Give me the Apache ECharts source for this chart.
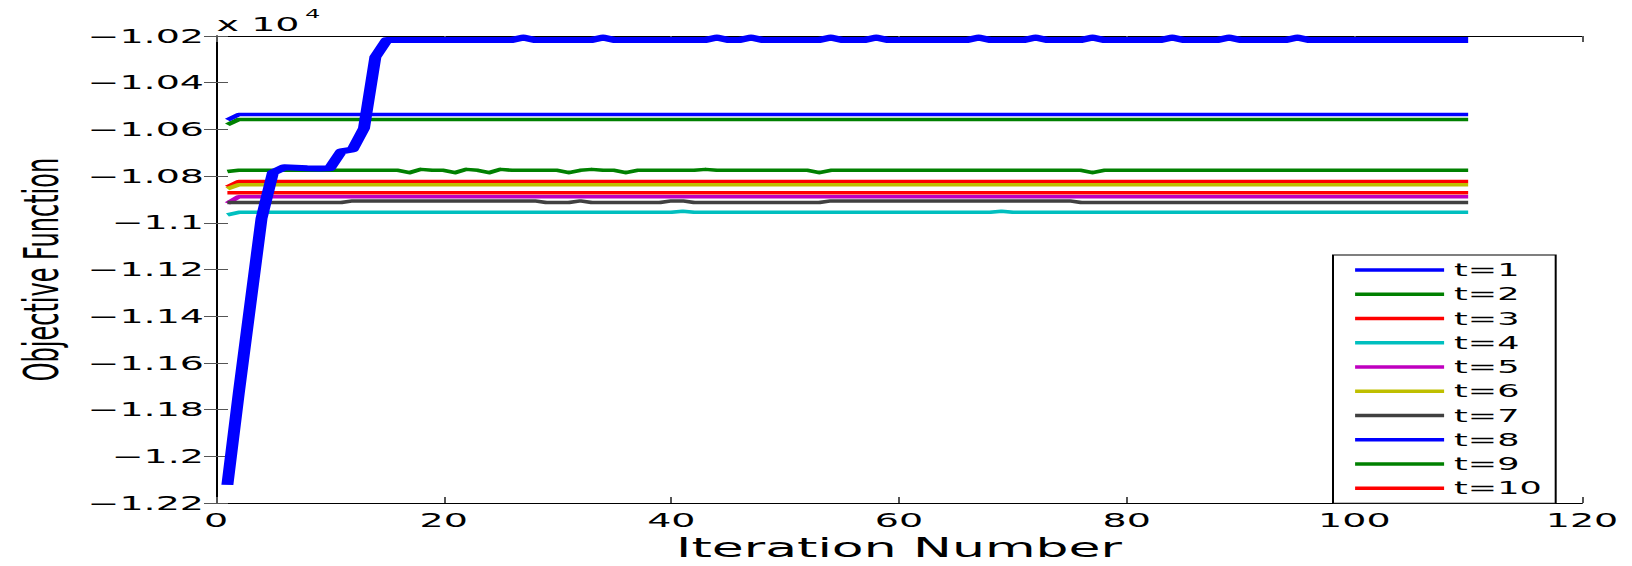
<!DOCTYPE html>
<html>
<head>
<meta charset="utf-8">
<script src="https://cdn.jsdelivr.net/npm/echarts@6/dist/echarts.min.js"></script>
<style>
html,body{margin:0;padding:0;background:#fff;overflow:hidden;width:1632px;height:566px}
#chart{width:816px;height:566px;transform:scaleX(2);transform-origin:0 0;}
</style>
</head>
<body>
<div id="chart"></div>
<script>
// ---- data (objective values) ----
const iterations = [
  1,2,3,4,5,6,7,8,9,10, 11,12,13,14,15,16,17,18,19,20,
  21,22,23,24,25,26,27,28,29,30, 31,32,33,34,35,36,37,38,39,40,
  41,42,43,44,45,46,47,48,49,50, 51,52,53,54,55,56,57,58,59,60,
  61,62,63,64,65,66,67,68,69,70, 71,72,73,74,75,76,77,78,79,80,
  81,82,83,84,85,86,87,88,89,90, 91,92,93,94,95,96,97,98,99,100,
  101,102,103,104,105,106,107,108,109,110
];
const seriesNames = ['t=1','t=2','t=3','t=4','t=5','t=6','t=7','t=8','t=9','t=10'];
const xTicks = [0,20,40,60,80,100,120];
const yTicks = [-12200,-12000,-11800,-11600,-11400,-11200,-11000,-10800,-10600,-10400,-10200];

const t1 = [
  -12122,-11729,-11355,-10981,-10785,-10762,-10764,-10766,-10767,-10766,
  -10694,-10686,-10595,-10290,-10217,-10217,-10217,-10217,-10217,-10217,
  -10217,-10217,-10217,-10217,-10217,-10217,-10206,-10217,-10217,-10217,
  -10217,-10217,-10217,-10206,-10217,-10217,-10217,-10217,-10217,-10217,
  -10217,-10217,-10217,-10206,-10217,-10217,-10206,-10217,-10217,-10217,
  -10217,-10217,-10217,-10206,-10217,-10217,-10217,-10206,-10217,-10217,
  -10217,-10217,-10217,-10217,-10217,-10217,-10206,-10217,-10217,-10217,
  -10217,-10206,-10217,-10217,-10217,-10217,-10206,-10217,-10217,-10217,
  -10217,-10217,-10217,-10206,-10217,-10217,-10217,-10217,-10206,-10217,
  -10217,-10217,-10217,-10217,-10206,-10217,-10217,-10217,-10217,-10217,
  -10217,-10217,-10217,-10217,-10217,-10217,-10217,-10217,-10217,-10217
];
const t2 = [
  -10580,-10557,-10557,-10557,-10557,-10557,-10557,-10557,-10557,-10557,
  -10557,-10557,-10557,-10557,-10557,-10557,-10557,-10557,-10557,-10557,
  -10557,-10557,-10557,-10557,-10557,-10557,-10557,-10557,-10557,-10557,
  -10557,-10557,-10557,-10557,-10557,-10557,-10557,-10557,-10557,-10557,
  -10557,-10557,-10557,-10557,-10557,-10557,-10557,-10557,-10557,-10557,
  -10557,-10557,-10557,-10557,-10557,-10557,-10557,-10557,-10557,-10557,
  -10557,-10557,-10557,-10557,-10557,-10557,-10557,-10557,-10557,-10557,
  -10557,-10557,-10557,-10557,-10557,-10557,-10557,-10557,-10557,-10557,
  -10557,-10557,-10557,-10557,-10557,-10557,-10557,-10557,-10557,-10557,
  -10557,-10557,-10557,-10557,-10557,-10557,-10557,-10557,-10557,-10557,
  -10557,-10557,-10557,-10557,-10557,-10557,-10557,-10557,-10557,-10557
];
const t3 = [
  -10847,-10823,-10823,-10823,-10823,-10823,-10823,-10823,-10823,-10823,
  -10823,-10823,-10823,-10823,-10823,-10823,-10823,-10823,-10823,-10823,
  -10823,-10823,-10823,-10823,-10823,-10823,-10823,-10823,-10823,-10823,
  -10823,-10823,-10823,-10823,-10823,-10823,-10823,-10823,-10823,-10823,
  -10823,-10823,-10823,-10823,-10823,-10823,-10823,-10823,-10823,-10823,
  -10823,-10823,-10823,-10823,-10823,-10823,-10823,-10823,-10823,-10823,
  -10823,-10823,-10823,-10823,-10823,-10823,-10823,-10823,-10823,-10823,
  -10823,-10823,-10823,-10823,-10823,-10823,-10823,-10823,-10823,-10823,
  -10823,-10823,-10823,-10823,-10823,-10823,-10823,-10823,-10823,-10823,
  -10823,-10823,-10823,-10823,-10823,-10823,-10823,-10823,-10823,-10823,
  -10823,-10823,-10823,-10823,-10823,-10823,-10823,-10823,-10823,-10823
];
const t4 = [
  -10966,-10955,-10955,-10955,-10955,-10955,-10955,-10955,-10955,-10955,
  -10955,-10955,-10955,-10955,-10955,-10955,-10955,-10955,-10955,-10955,
  -10955,-10955,-10955,-10955,-10955,-10955,-10955,-10955,-10955,-10955,
  -10955,-10955,-10955,-10955,-10955,-10955,-10955,-10955,-10955,-10955,
  -10950,-10955,-10955,-10955,-10955,-10955,-10955,-10955,-10955,-10955,
  -10955,-10955,-10955,-10955,-10955,-10955,-10955,-10955,-10955,-10955,
  -10955,-10955,-10955,-10955,-10955,-10955,-10955,-10955,-10950,-10955,
  -10955,-10955,-10955,-10955,-10955,-10955,-10955,-10955,-10955,-10955,
  -10955,-10955,-10955,-10955,-10955,-10955,-10955,-10955,-10955,-10955,
  -10955,-10955,-10955,-10955,-10955,-10955,-10955,-10955,-10955,-10955,
  -10955,-10955,-10955,-10955,-10955,-10955,-10955,-10955,-10955,-10955
];
const t5 = [
  -10917,-10888,-10888,-10888,-10888,-10888,-10888,-10888,-10888,-10888,
  -10888,-10888,-10888,-10888,-10888,-10888,-10888,-10888,-10888,-10888,
  -10888,-10888,-10888,-10888,-10888,-10888,-10888,-10888,-10888,-10888,
  -10888,-10888,-10888,-10888,-10888,-10888,-10888,-10888,-10888,-10888,
  -10888,-10888,-10888,-10888,-10888,-10888,-10888,-10888,-10888,-10888,
  -10888,-10888,-10888,-10888,-10888,-10888,-10888,-10888,-10888,-10888,
  -10888,-10888,-10888,-10888,-10888,-10888,-10888,-10888,-10888,-10888,
  -10888,-10888,-10888,-10888,-10888,-10888,-10888,-10888,-10888,-10888,
  -10888,-10888,-10888,-10888,-10888,-10888,-10888,-10888,-10888,-10888,
  -10888,-10888,-10888,-10888,-10888,-10888,-10888,-10888,-10888,-10888,
  -10888,-10888,-10888,-10888,-10888,-10888,-10888,-10888,-10888,-10888
];
const t6 = [
  -10854,-10837,-10837,-10837,-10837,-10837,-10837,-10837,-10837,-10837,
  -10837,-10837,-10837,-10837,-10837,-10837,-10837,-10837,-10837,-10837,
  -10837,-10837,-10837,-10837,-10837,-10837,-10837,-10837,-10837,-10837,
  -10837,-10837,-10837,-10837,-10837,-10837,-10837,-10837,-10837,-10837,
  -10837,-10837,-10837,-10837,-10837,-10837,-10837,-10837,-10837,-10837,
  -10837,-10837,-10837,-10837,-10837,-10837,-10837,-10837,-10837,-10837,
  -10837,-10837,-10837,-10837,-10837,-10837,-10837,-10837,-10837,-10837,
  -10837,-10837,-10837,-10837,-10837,-10837,-10837,-10837,-10837,-10837,
  -10837,-10837,-10837,-10837,-10837,-10837,-10837,-10837,-10837,-10837,
  -10837,-10837,-10837,-10837,-10837,-10837,-10837,-10837,-10837,-10837,
  -10837,-10837,-10837,-10837,-10837,-10837,-10837,-10837,-10837,-10837
];
const t7 = [
  -10913,-10913,-10913,-10913,-10913,-10913,-10913,-10913,-10913,-10913,
  -10913,-10906,-10906,-10906,-10906,-10906,-10906,-10906,-10906,-10906,
  -10906,-10906,-10906,-10906,-10906,-10906,-10906,-10906,-10913,-10913,
  -10913,-10906,-10913,-10913,-10913,-10913,-10913,-10913,-10913,-10906,
  -10906,-10913,-10913,-10913,-10913,-10913,-10913,-10913,-10913,-10913,
  -10913,-10913,-10913,-10906,-10906,-10906,-10906,-10906,-10906,-10906,
  -10906,-10906,-10906,-10906,-10906,-10906,-10906,-10906,-10906,-10906,
  -10906,-10906,-10906,-10906,-10906,-10913,-10913,-10913,-10913,-10913,
  -10913,-10913,-10913,-10913,-10913,-10913,-10913,-10913,-10913,-10913,
  -10913,-10913,-10913,-10913,-10913,-10913,-10913,-10913,-10913,-10913,
  -10913,-10913,-10913,-10913,-10913,-10913,-10913,-10913,-10913,-10913
];
const t8 = [
  -10560,-10536,-10536,-10536,-10536,-10536,-10536,-10536,-10536,-10536,
  -10536,-10536,-10536,-10536,-10536,-10536,-10536,-10536,-10536,-10536,
  -10536,-10536,-10536,-10536,-10536,-10536,-10536,-10536,-10536,-10536,
  -10536,-10536,-10536,-10536,-10536,-10536,-10536,-10536,-10536,-10536,
  -10536,-10536,-10536,-10536,-10536,-10536,-10536,-10536,-10536,-10536,
  -10536,-10536,-10536,-10536,-10536,-10536,-10536,-10536,-10536,-10536,
  -10536,-10536,-10536,-10536,-10536,-10536,-10536,-10536,-10536,-10536,
  -10536,-10536,-10536,-10536,-10536,-10536,-10536,-10536,-10536,-10536,
  -10536,-10536,-10536,-10536,-10536,-10536,-10536,-10536,-10536,-10536,
  -10536,-10536,-10536,-10536,-10536,-10536,-10536,-10536,-10536,-10536,
  -10536,-10536,-10536,-10536,-10536,-10536,-10536,-10536,-10536,-10536
];
const t9 = [
  -10780,-10775,-10775,-10775,-10775,-10775,-10775,-10775,-10775,-10775,
  -10775,-10775,-10775,-10775,-10775,-10775,-10785,-10771,-10775,-10775,
  -10785,-10771,-10775,-10785,-10771,-10775,-10775,-10775,-10775,-10775,
  -10785,-10775,-10771,-10775,-10775,-10785,-10775,-10775,-10775,-10775,
  -10775,-10775,-10771,-10775,-10775,-10775,-10775,-10775,-10775,-10775,
  -10775,-10775,-10785,-10775,-10775,-10775,-10775,-10775,-10775,-10775,
  -10775,-10775,-10775,-10775,-10775,-10775,-10775,-10775,-10775,-10775,
  -10775,-10775,-10775,-10775,-10775,-10775,-10785,-10775,-10775,-10775,
  -10775,-10775,-10775,-10775,-10775,-10775,-10775,-10775,-10775,-10775,
  -10775,-10775,-10775,-10775,-10775,-10775,-10775,-10775,-10775,-10775,
  -10775,-10775,-10775,-10775,-10775,-10775,-10775,-10775,-10775,-10775
];
const t10 = [
  -10871,-10871,-10871,-10871,-10871,-10871,-10871,-10871,-10871,-10871,
  -10871,-10871,-10871,-10871,-10871,-10871,-10871,-10871,-10871,-10871,
  -10871,-10871,-10871,-10871,-10871,-10871,-10871,-10871,-10871,-10871,
  -10871,-10871,-10871,-10871,-10871,-10871,-10871,-10871,-10871,-10871,
  -10871,-10871,-10871,-10871,-10871,-10871,-10871,-10871,-10871,-10871,
  -10871,-10871,-10871,-10871,-10871,-10871,-10871,-10871,-10871,-10871,
  -10871,-10871,-10871,-10871,-10871,-10871,-10871,-10871,-10871,-10871,
  -10871,-10871,-10871,-10871,-10871,-10871,-10871,-10871,-10871,-10871,
  -10871,-10871,-10871,-10871,-10871,-10871,-10871,-10871,-10871,-10871,
  -10871,-10871,-10871,-10871,-10871,-10871,-10871,-10871,-10871,-10871,
  -10871,-10871,-10871,-10871,-10871,-10871,-10871,-10871,-10871,-10871
];

// ---- styling ----
const allValues = [t1,t2,t3,t4,t5,t6,t7,t8,t9,t10];
const colors = ['#0000ff','#008000','#ff0000','#00bfbf','#bf00bf','#bfbf00','#404040','#0000ff','#008000','#ff0000'];
const FONT = 'DejaVu Sans';

function fmtY(v){
  const s = parseFloat((v/10000).toFixed(2)).toString();
  return s.replace('-', '\u2212');
}

const series = allValues.map((vals, k) => ({
  name: seriesNames[k],
  type: 'line',
  xAxisIndex: 0,
  yAxisIndex: 0,
  symbol: 'none',
  showSymbol: false,
  z: k === 0 ? 5 : 2,
  color: colors[k],
  lineStyle: { color: colors[k], width: k === 0 ? 6 : 3.5, join: 'round' },
  data: iterations.map((it, j) => [it, vals[j]])
}));

const axisLineStyle = { show: true, lineStyle: { color: '#000', width: 1 } };
const tickStyle = { show: true, inside: true, length: 6, lineStyle: { color: '#555', width: 1 } };

const option = {
  animation: false,
  backgroundColor: '#fff',
  grid: { left: 108, right: 25, top: 36, bottom: 54, containLabel: false },
  xAxis: [
    {
      type: 'value', position: 'bottom',
      min: xTicks[0], max: xTicks[xTicks.length-1], interval: 20,
      axisLine: axisLineStyle, axisTick: tickStyle, splitLine: { show: false },
      axisLabel: { margin: 8, color: '#000', fontFamily: FONT, fontSize: 19 },
      name: 'Iteration Number', nameLocation: 'middle', nameGap: 21,
      nameTextStyle: { color: '#000', fontFamily: FONT, fontSize: 26 }
    },
    {
      type: 'value', position: 'top',
      min: xTicks[0], max: xTicks[xTicks.length-1], interval: 20,
      axisLine: axisLineStyle, axisTick: tickStyle, splitLine: { show: false },
      axisLabel: { show: false }
    }
  ],
  yAxis: [
    {
      type: 'value', position: 'left',
      min: yTicks[0], max: yTicks[yTicks.length-1], interval: 200,
      axisLine: axisLineStyle, axisTick: tickStyle, splitLine: { show: false },
      axisLabel: { margin: 6, color: '#000', fontFamily: FONT, fontSize: 19, formatter: fmtY },
      name: 'Objective Function', nameLocation: 'middle', nameGap: 74,
      nameTextStyle: { color: '#000', fontFamily: FONT, fontSize: 24 }
    },
    {
      type: 'value', position: 'right',
      min: yTicks[0], max: yTicks[yTicks.length-1], interval: 200,
      axisLine: axisLineStyle, axisTick: tickStyle, splitLine: { show: false },
      axisLabel: { show: false }
    }
  ],
  legend: {
    show: true,
    orient: 'vertical',
    left: 666.5, top: 255,
    data: seriesNames,
    itemWidth: 44.5, itemHeight: 14, itemGap: 4.26,
    padding: [5, 7, 5, 9.3],
    borderColor: '#000', borderWidth: 1, borderRadius: 0,
    backgroundColor: '#fff',
    itemStyle: { opacity: 0, borderWidth: 0 },
    lineStyle: { width: 3.5 },
    textStyle: { color: '#000', fontFamily: FONT, fontSize: 17.5, lineHeight: 20 }
  },
  graphic: [
    { type: 'text', x: 108.3, y: 34,
      style: { text: 'x 10', fill: '#000', font: '19px "DejaVu Sans"', align: 'left', verticalAlign: 'bottom' } },
    { type: 'text', x: 152.5, y: 8,
      style: { text: '4', fill: '#000', font: '12px "DejaVu Sans"', align: 'left', verticalAlign: 'top' } }
  ],
  series: series
};

const chart = echarts.init(document.getElementById('chart'), null, { renderer: 'svg', width: 816, height: 566 });
chart.setOption(option);
</script>
</body>
</html>
